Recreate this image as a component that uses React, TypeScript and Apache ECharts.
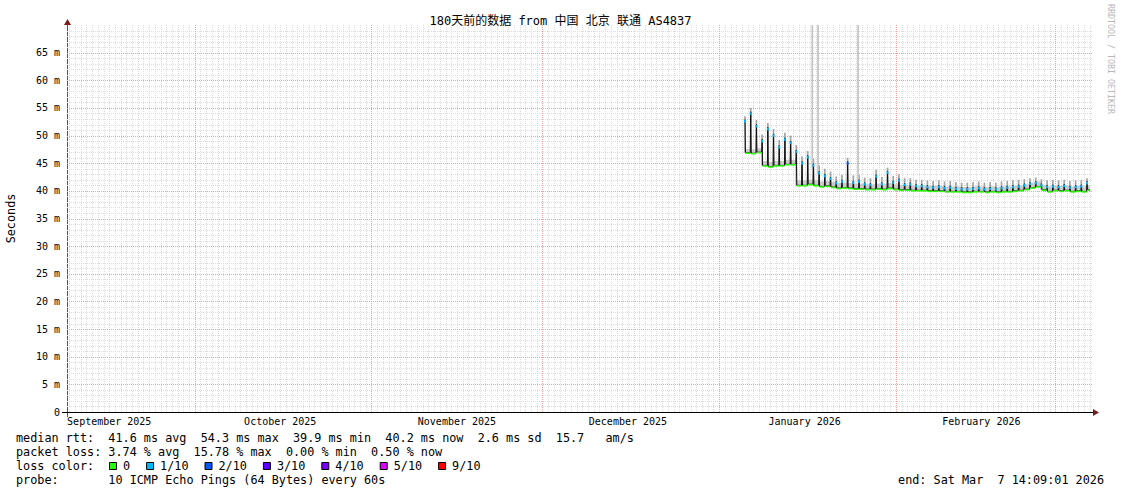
import React, { useEffect, useRef } from 'react';
import * as echarts from 'echarts';

const MONO = "'DejaVu Sans Mono', 'Noto Sans CJK SC', monospace";
const DAY = 86400000;

// time range (display clock)
const rangeStartStr = '2025-09-08T14:09:01Z';
const rangeEndStr = '2026-03-07T14:09:01Z';
const firstPeakStr = '2026-01-05T13:00:00Z';

const monthStartDates = ['2025-10-01', '2025-11-01', '2025-12-01', '2026-01-01', '2026-02-01', '2026-03-01'];
const monthLabelDates = ['2025-09-16', '2025-10-16', '2025-11-16', '2025-12-16', '2026-01-16', '2026-02-16'];
const monthLabels = ['September 2025', 'October 2025', 'November 2025', 'December 2025', 'January 2026', 'February 2026'];

// daily median peaks (ms), one per day starting at firstPeak
const peakMs = [
  52.9, 54.3, 52.0, 49.3, 51.5, 50.3, 48.2, 49.6, 49.0, 47.4,
  45.3, 46.4, 44.9, 43.5, 43.0, 42.5, 41.7, 42.0, 45.3, 41.8,
  42.0, 41.5, 41.4, 42.9, 41.5, 43.6, 41.8, 42.2, 41.4, 41.5,
  41.2, 41.2, 41.0, 40.9, 41.0, 40.8, 40.9, 40.7, 40.6, 40.6,
  40.7, 40.8, 40.6, 40.7, 40.6, 40.8, 40.9, 41.0, 41.1, 41.3,
  41.6, 41.7, 41.3, 41.0, 41.1, 41.0, 41.2, 40.9, 41.0, 41.1, 41.7,
];
// median base level following each peak (ms)
const baseMs = [
  46.9, 46.8, 47.0, 44.6, 44.4, 44.6, 44.6, 44.8, 44.8, 41.0,
  41.0, 41.2, 41.0, 40.8, 40.9, 40.7, 40.5, 40.6, 40.5, 40.4,
  40.4, 40.3, 40.3, 40.4, 40.3, 40.5, 40.3, 40.2, 40.2, 40.1,
  40.1, 40.1, 40.0, 40.0, 40.0, 39.9, 39.9, 39.9, 39.8, 39.8,
  39.9, 39.9, 39.8, 39.9, 39.8, 39.9, 39.9, 40.0, 40.1, 40.3,
  40.6, 40.8, 40.2, 39.9, 40.1, 40.0, 40.1, 39.9, 40.0, 39.9, 40.2,
];
// top of the smoke around each peak (ms)
const peakSmokeMs = [
  53.5, 55.0, 52.8, 50.2, 52.3, 51.2, 49.2, 50.5, 50.0, 48.3,
  46.2, 47.2, 45.8, 44.6, 44.0, 43.5, 42.6, 42.9, 46.0, 42.8,
  42.9, 42.4, 42.3, 43.8, 42.5, 44.2, 42.7, 43.0, 42.3, 42.3,
  42.0, 42.0, 41.9, 41.8, 41.9, 41.7, 41.8, 41.6, 41.5, 41.5,
  41.6, 41.7, 41.5, 41.6, 41.5, 41.7, 41.8, 41.9, 42.0, 42.1,
  42.3, 42.4, 42.1, 41.9, 42.0, 41.9, 42.0, 41.8, 41.9, 42.0, 42.3,
];
// top of the smoke along the base (ms)
const baseSmokeMs = [
  47.6, 47.5, 47.7, 45.4, 45.2, 45.4, 45.4, 45.6, 45.6, 41.9,
  41.9, 42.0, 41.9, 41.7, 41.8, 41.6, 41.4, 41.5, 41.4, 41.3,
  41.3, 41.2, 41.2, 41.3, 41.2, 41.4, 41.2, 41.1, 41.1, 41.0,
  41.0, 41.0, 40.9, 40.9, 40.9, 40.8, 40.8, 40.8, 40.7, 40.7,
  40.8, 40.8, 40.7, 40.8, 40.7, 40.8, 40.8, 40.9, 41.0, 41.2,
  41.5, 41.7, 41.1, 40.8, 41.0, 40.9, 41.0, 40.8, 40.9, 40.8, 41.0,
];
// loss (of 10) at each peak and along each base
const peakLoss = [
  1, 1, 1, 1, 1, 1, 1, 1, 1, 1,
  1, 1, 1, 1, 1, 1, 1, 1, 2, 1,
  1, 1, 1, 1, 1, 1, 1, 1, 1, 1,
  1, 1, 1, 1, 1, 1, 1, 1, 1, 1,
  1, 1, 1, 1, 1, 1, 1, 1, 1, 1,
  1, 1, 1, 1, 1, 1, 1, 1, 1, 1, 1,
];
const baseLoss = [
  0, 0, 0, 0, 0, 0, 0, 0, 0, 0,
  0, 0, 0, 0, 0, 0, 0, 0, 0, 0,
  0, 0, 0, 0, 0, 0, 0, 0, 0, 0,
  0, 0, 0, 0, 0, 0, 0, 0, 0, 0,
  0, 0, 0, 0, 0, 0, 0, 0, 0, 0,
  0, 0, 0, 0, 0, 0, 0, 0, 0, 0, 0,
];
// tall max-ping outliers
const spikeTimes = ['2026-01-17T08:12:00Z', '2026-01-18T08:24:00Z', '2026-01-25T08:53:00Z'];
const spikeLow = [44.0, 43.0, 41.5];
const spikeHigh = [75, 75, 75];

const lossLevels = [0, 1, 2, 3, 4, 5, 9];
const lossLabels = ['0', '1/10', '2/10', '3/10', '4/10', '5/10', '9/10'];
const lossColors = ['#26ff00', '#00b8ff', '#0059ff', '#5e00ff', '#7e00ff', '#dd00ff', '#ff0000'];

const titleText = '180天前的数据 from 中国 北京 联通 AS4837';
const statLines = [
  'median rtt:  41.6 ms avg  54.3 ms max  39.9 ms min  40.2 ms now  2.6 ms sd  15.7   am/s',
  'packet loss: 3.74 % avg  15.78 % max  0.00 % min  0.50 % now',
];
const lossLineLabel = 'loss color:';
const probeLine = 'probe:       10 ICMP Echo Pings (64 Bytes) every 60s';
const endLine = 'end: Sat Mar  7 14:09:01 2026';
const watermark = 'RRDTOOL / TOBI OETIKER';

const colorOf = (lvl: number) => lossColors[Math.max(0, lossLevels.indexOf(lvl))];

const MINOR = '#dddddd';
const MAJOR = '#eea2a2';

export default function App() {
  const ref = useRef<HTMLDivElement>(null);
  useEffect(() => {
    if (!ref.current) return;
    const chart = echarts.init(ref.current, undefined, { renderer: 'svg' });

    const rangeStart = Date.parse(rangeStartStr);
    const rangeEnd = Date.parse(rangeEndStr);
    const firstPeak = Date.parse(firstPeakStr);
    const monthStarts = monthStartDates.map((d) => Date.parse(d + 'T00:00:00Z'));
    const labelTimes = monthLabelDates.map((d) => Date.parse(d + 'T00:00:00Z'));

    const median: number[][] = [];
    const lossData: number[][] = [];
    const smoke: number[][] = [];
    peakMs.forEach((p, k) => {
      const t = firstPeak + k * DAY;
      const last = k === peakMs.length - 1;
      if (k > 0) median.push([t - 0.08 * DAY, baseMs[k - 1]]);
      median.push([t, p]);
      median.push([t + 0.08 * DAY, baseMs[k]]);
      if (last) median.push([t + 0.5 * DAY, baseMs[k]]);
      const segEnd = last ? t + 0.5 * DAY : t + 0.92 * DAY;
      lossData.push([t, p, baseMs[k], peakLoss[k], baseLoss[k], segEnd]);
      smoke.push([t + (last ? 0.25 : 0.5) * DAY, baseMs[k] - 0.1, baseSmokeMs[k], last ? 0.5 : 0.9, 0]);
      smoke.push([t, baseMs[k], peakSmokeMs[k], 0.3, 1]);
    });
    spikeTimes.forEach((s, i) => {
      smoke.push([Date.parse(s), spikeLow[i], spikeHigh[i], 0.3, 2]);
    });

    const vMinor: number[] = [];
    for (let t = Date.parse('2025-09-09T00:00:00Z'); t < rangeEnd; t += DAY) {
      if (!monthStarts.includes(t)) vMinor.push(t);
    }
    const hMinor: number[] = [];
    const hMajor: number[] = [];
    for (let v = 1; v < 70; v++) (v % 5 === 0 ? hMajor : hMinor).push(v);

    const hLine = (color: string) => (params: any, api: any) => {
      const cs = params.coordSys;
      const y = Math.round(api.coord([rangeStart, api.value(1)])[1]) + 0.5;
      return {
        type: 'line',
        shape: { x1: cs.x, y1: y, x2: cs.x + cs.width, y2: y },
        style: { stroke: color, lineWidth: 1, lineDash: [1, 1] },
      };
    };
    const vLine = (color: string) => (params: any, api: any) => {
      const cs = params.coordSys;
      const x = Math.round(api.coord([api.value(0), 0])[0]) + 0.5;
      return {
        type: 'line',
        shape: { x1: x, y1: cs.y, x2: x, y2: cs.y + cs.height },
        style: { stroke: color, lineWidth: 1, lineDash: [1, 1] },
      };
    };

    const smokeColors = ['#cbcbcb', '#a4a4a4', '#c4c4c4'];

    const graphics: any[] = [];
    graphics.push({ type: 'line', shape: { x1: 67.5, y1: 412, x2: 67.5, y2: 417 }, style: { stroke: '#555', lineWidth: 1 } });
    graphics.push({ type: 'line', shape: { x1: 62, y1: 412.5, x2: 67, y2: 412.5 }, style: { stroke: '#000', lineWidth: 1 } });
    graphics.push({ type: 'polygon', shape: { points: [[64, 25], [71, 25], [67.5, 19]] }, style: { fill: '#7a1c1c' } });
    graphics.push({ type: 'polygon', shape: { points: [[1093, 409], [1093, 416], [1099, 412.5]] }, style: { fill: '#7a1c1c' } });
    graphics.push({
      type: 'text', x: 1111, y: 4, rotation: -Math.PI / 2,
      style: { text: watermark, font: `8.3px ${MONO}`, fill: '#b8b8b8', align: 'left', verticalAlign: 'middle' },
    });
    const fnt = `11.8px ${MONO}`;
    const CW = 7.1;
    const lineY = [438, 452, 466, 480];
    statLines.forEach((s, i) => {
      graphics.push({ type: 'text', x: 16, y: lineY[i], style: { text: s, font: fnt, fill: '#000', align: 'left', verticalAlign: 'middle' } });
    });
    graphics.push({ type: 'text', x: 16, y: lineY[2], style: { text: lossLineLabel, font: fnt, fill: '#000', align: 'left', verticalAlign: 'middle' } });
    let cx = 109;
    lossLabels.forEach((lbl, i) => {
      graphics.push({ type: 'rect', shape: { x: cx + 0.5, y: lineY[2] - 3.5, width: 7, height: 7 }, style: { fill: lossColors[i], stroke: '#000', lineWidth: 1 } });
      const tx = cx + 14;
      graphics.push({ type: 'text', x: tx, y: lineY[2], style: { text: lbl, font: fnt, fill: '#000', align: 'left', verticalAlign: 'middle' } });
      cx = tx + lbl.length * CW + 16;
    });
    graphics.push({ type: 'text', x: 16, y: lineY[3], style: { text: probeLine, font: fnt, fill: '#000', align: 'left', verticalAlign: 'middle' } });
    graphics.push({ type: 'text', x: 1104, y: lineY[3], style: { text: endLine, font: fnt, fill: '#000', align: 'right', verticalAlign: 'middle' } });

    const option: any = {
      animation: false,
      backgroundColor: '#ffffff',
      textStyle: { fontFamily: MONO },
      title: {
        text: titleText, left: 'center', top: 15, padding: 0,
        textStyle: { fontFamily: MONO, fontSize: 12, fontWeight: 'normal', color: '#000' },
      },
      grid: { left: 67, top: 25, width: 1026, height: 387, outerBoundsMode: 'none', containLabel: false },
      xAxis: {
        type: 'value', min: rangeStart, max: rangeEnd, scale: true,
        axisLine: { show: true, onZero: false, lineStyle: { color: '#000', width: 1 } },
        axisTick: { show: false },
        splitLine: { show: false },
        axisLabel: {
          customValues: labelTimes,
          formatter: (v: number) => {
            const i = labelTimes.indexOf(v);
            return i >= 0 ? monthLabels[i] : '';
          },
          fontFamily: MONO, fontSize: 10, color: '#000', margin: 4,
        },
      },
      yAxis: {
        type: 'value', min: 0, max: 70, interval: 5,
        name: 'Seconds', nameLocation: 'middle', nameGap: 50,
        nameTextStyle: { fontFamily: MONO, fontSize: 11.8, color: '#000' },
        axisLine: { show: true, lineStyle: { color: '#555', width: 1 } },
        axisTick: { show: false },
        axisLabel: {
          formatter: (v: number) => (v === 0 ? '0' : v >= 70 ? '' : `${v} m`),
          fontFamily: MONO, fontSize: 10, color: '#000', margin: 7,
        },
        splitLine: { show: false },
      },
      series: [
        {
          type: 'custom', name: 'hgrid-minor', z: 1, silent: true,
          data: hMinor.map((v) => [rangeStart, v]), encode: { x: 0, y: 1 },
          renderItem: hLine(MINOR),
        },
        {
          type: 'custom', name: 'vgrid-minor', z: 1, silent: true,
          data: vMinor.map((t) => [t, 0]), encode: { x: 0, y: 1 },
          renderItem: vLine(MINOR),
        },
        {
          type: 'custom', name: 'hgrid-major', z: 1, silent: true,
          data: hMajor.map((v) => [rangeStart, v]), encode: { x: 0, y: 1 },
          renderItem: hLine(MAJOR),
        },
        {
          type: 'custom', name: 'vgrid-major', z: 1, silent: true,
          data: monthStarts.map((t) => [t, 0]), encode: { x: 0, y: 1 },
          renderItem: vLine(MAJOR),
        },
        {
          type: 'custom', name: 'smoke', z: 2, silent: true, clip: true,
          data: smoke,
          encode: { x: 0, y: [1, 2] },
          renderItem: (params: any, api: any) => {
            const t = api.value(0);
            const lo = api.value(1), hi = api.value(2), wd = api.value(3), kind = api.value(4);
            const a = api.coord([t, hi]);
            const b = api.coord([t, lo]);
            const w = Math.max(1, api.size([wd * DAY, 0])[0]);
            const cs = params.coordSys;
            const top = Math.max(a[1], cs.y);
            return {
              type: 'rect',
              shape: { x: a[0] - w / 2, y: top, width: w, height: Math.max(0, b[1] - top) },
              style: { fill: smokeColors[kind] },
            };
          },
        },
        {
          type: 'line', name: 'median', z: 3, silent: true,
          data: median, showSymbol: false, symbol: 'none',
          lineStyle: { color: '#111', width: 1 },
        },
        {
          type: 'custom', name: 'loss', z: 4, silent: true, clip: true,
          data: lossData,
          encode: { x: 0, y: [1, 2] },
          renderItem: (params: any, api: any) => {
            const t = api.value(0);
            const p = api.coord([t, api.value(1)]);
            const b0 = api.coord([t + 0.08 * DAY, api.value(2)]);
            const b1 = api.coord([api.value(5), api.value(2)]);
            return {
              type: 'group',
              children: [
                { type: 'line', shape: { x1: b0[0], y1: b0[1] + 0.5, x2: b1[0], y2: b1[1] + 0.5 }, style: { stroke: colorOf(api.value(4)), lineWidth: 1.6 } },
                { type: 'rect', shape: { x: p[0] - 1, y: p[1] + 0.5, width: 2, height: 2.5 }, style: { fill: colorOf(api.value(3)) } },
              ],
            };
          },
        },
      ],
      graphic: graphics,
    };
    chart.setOption(option);
    return () => chart.dispose();
  }, []);
  return <div ref={ref} style={{ position: 'absolute', left: 0, top: 0, width: 1121, height: 494, background: '#fff' }} />;
}
